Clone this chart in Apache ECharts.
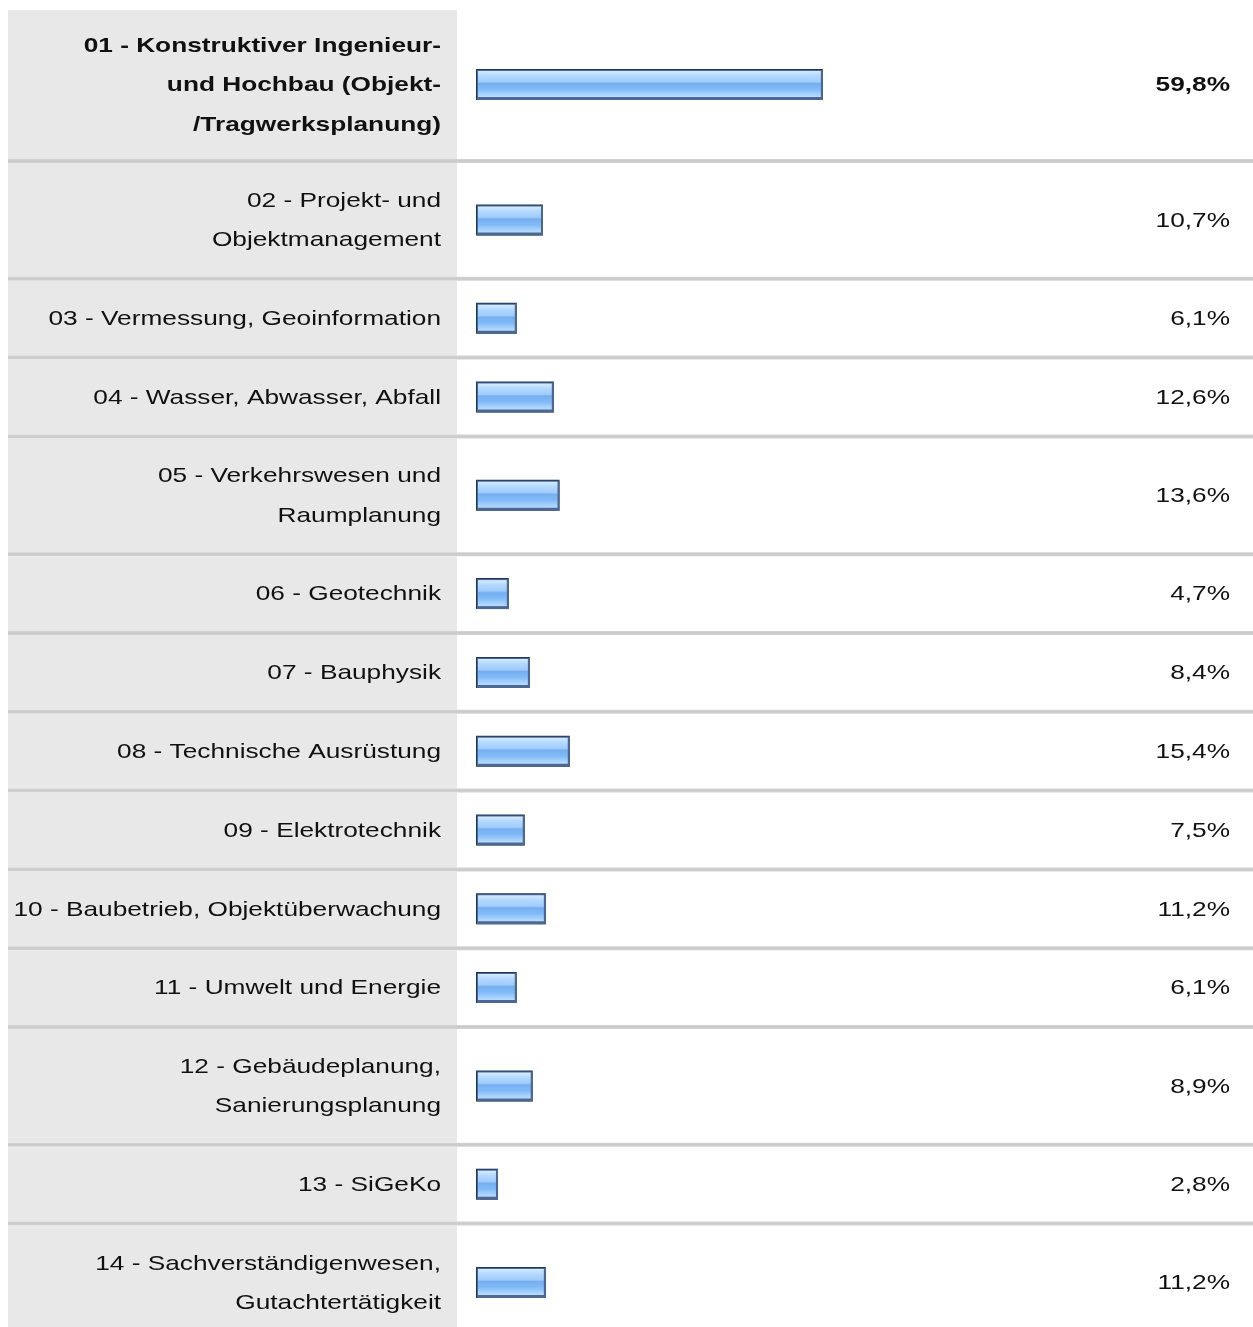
<!DOCTYPE html>
<html>
<head>
<meta charset="utf-8">
<script src="https://cdn.jsdelivr.net/npm/echarts@6/dist/echarts.min.js"></script>
<style>
  html, body { margin: 0; padding: 0; background: #fff; }
  #main { width: 1253px; height: 1327px; }
</style>
</head>
<body>
<div id="main"></div>
<script>
// Fachgebiete (Zeilenumbrüche wie im Original)
const categories = [
  "01 - Konstruktiver Ingenieur-\nund Hochbau (Objekt-\n/Tragwerksplanung)",
  "02 - Projekt- und\nObjektmanagement",
  "03 - Vermessung, Geoinformation",
  "04 - Wasser, Abwasser, Abfall",
  "05 - Verkehrswesen und\nRaumplanung",
  "06 - Geotechnik",
  "07 - Bauphysik",
  "08 - Technische Ausrüstung",
  "09 - Elektrotechnik",
  "10 - Baubetrieb, Objektüberwachung",
  "11 - Umwelt und Energie",
  "12 - Gebäudeplanung,\nSanierungsplanung",
  "13 - SiGeKo",
  "14 - Sachverständigenwesen,\nGutachtertätigkeit"
];
const values = [59.8, 10.7, 6.1, 12.6, 13.6, 4.7, 8.4, 15.4, 7.5, 11.2, 6.1, 8.9, 2.8, 11.2];

// Layout (px)
const ROW_H = { 1: 78.8, 2: 117.8, 3: 153 };
const SEP = 4;
const COL_LEFT = 8, COL_RIGHT = 457, LABEL_X = 441, VALUE_X = 1230, RIGHT = 1253;
const FONT = "'Liberation Sans', Arial, sans-serif";
const FONT_SIZE = 21, STRETCH = 1.25, LINE_H = 39.5;
const BAR_EXTRA = 6; // frame width added to every bar

const rowHeights = categories.map(c => ROW_H[c.split("\n").length]);
const centers = [];
let acc = 0;
rowHeights.forEach(h => { centers.push(acc + (h - SEP) / 2); acc += h; });

const fmt = v => v.toFixed(1).replace(".", ",") + "%";

function renderItem(params, api) {
  const v = api.value(0), c = api.value(1), i = api.value(2);
  const h = rowHeights[i];
  const yTop = api.coord([0, c - (h - SEP) / 2])[1];
  const yMid = api.coord([0, c])[1];
  const p0 = api.coord([0, c]);
  const p1 = api.coord([v, c]);
  const bold = i === 0 ? "bold " : "";
  const barH = 31;
  const bx = p0[0], bw = p1[0] - p0[0] + BAR_EXTRA, by = yMid - barH / 2;
  return {
    type: "group",
    children: [
      { type: "rect", shape: { x: COL_LEFT, y: yTop, width: COL_RIGHT - COL_LEFT, height: h - SEP },
        style: { fill: "#e8e8e8" } },
      { type: "rect", shape: { x: COL_LEFT, y: yTop + h - SEP, width: RIGHT - COL_LEFT, height: SEP },
        style: { fill: "#d2d2d2" } },
      { type: "rect", shape: { x: COL_LEFT, y: yTop + h - SEP + 1, width: RIGHT - COL_LEFT, height: 2 },
        style: { fill: "#cbcbcb" } },
      // bar: dark frame + glossy gradient
      { type: "rect", shape: { x: bx, y: by, width: bw, height: barH },
        style: { fill: "#1e3760" } },
      { type: "rect", shape: { x: bx + 1, y: by + 1, width: bw - 1, height: barH - 1 },
        style: { fill: "#4d6890" } },
      { type: "rect", shape: { x: bx + 2, y: by + 2, width: bw - 4, height: barH - 5 },
        style: {
          fill: new echarts.graphic.LinearGradient(0, 0, 0, 1, [
            { offset: 0, color: "#d6ebff" },
            { offset: 0.18, color: "#b4d9ff" },
            { offset: 0.42, color: "#9fcbfc" },
            { offset: 0.48, color: "#76aff0" },
            { offset: 0.7, color: "#80baf6" },
            { offset: 0.9, color: "#a7d2fd" },
            { offset: 1, color: "#b9dcff" }
          ])
        } },
      { type: "text", x: LABEL_X, y: yMid + 1, scaleX: STRETCH,
        style: { text: categories[i], align: "right", verticalAlign: "middle",
                 font: bold + FONT_SIZE + "px " + FONT, lineHeight: LINE_H, fill: "#111" } },
      { type: "text", x: VALUE_X, y: yMid + 1, scaleX: STRETCH,
        style: { text: fmt(v), align: "right", verticalAlign: "middle",
                 font: bold + FONT_SIZE + "px " + FONT, fill: "#111" } }
    ]
  };
}

const chart = echarts.init(document.getElementById("main"), null, { renderer: "canvas" });
chart.setOption({
  animation: false,
  backgroundColor: "#fff",
  grid: { left: 476, right: 207, top: 10, bottom: 0 },
  xAxis: { type: "value", min: 0, max: 100, show: false },
  yAxis: { type: "value", min: 0, max: 1317, inverse: true, show: false },
  series: [{
    type: "custom",
    clip: false,
    renderItem: renderItem,
    data: values.map((v, i) => [v, centers[i], i])
  }]
});
</script>
</body>
</html>
